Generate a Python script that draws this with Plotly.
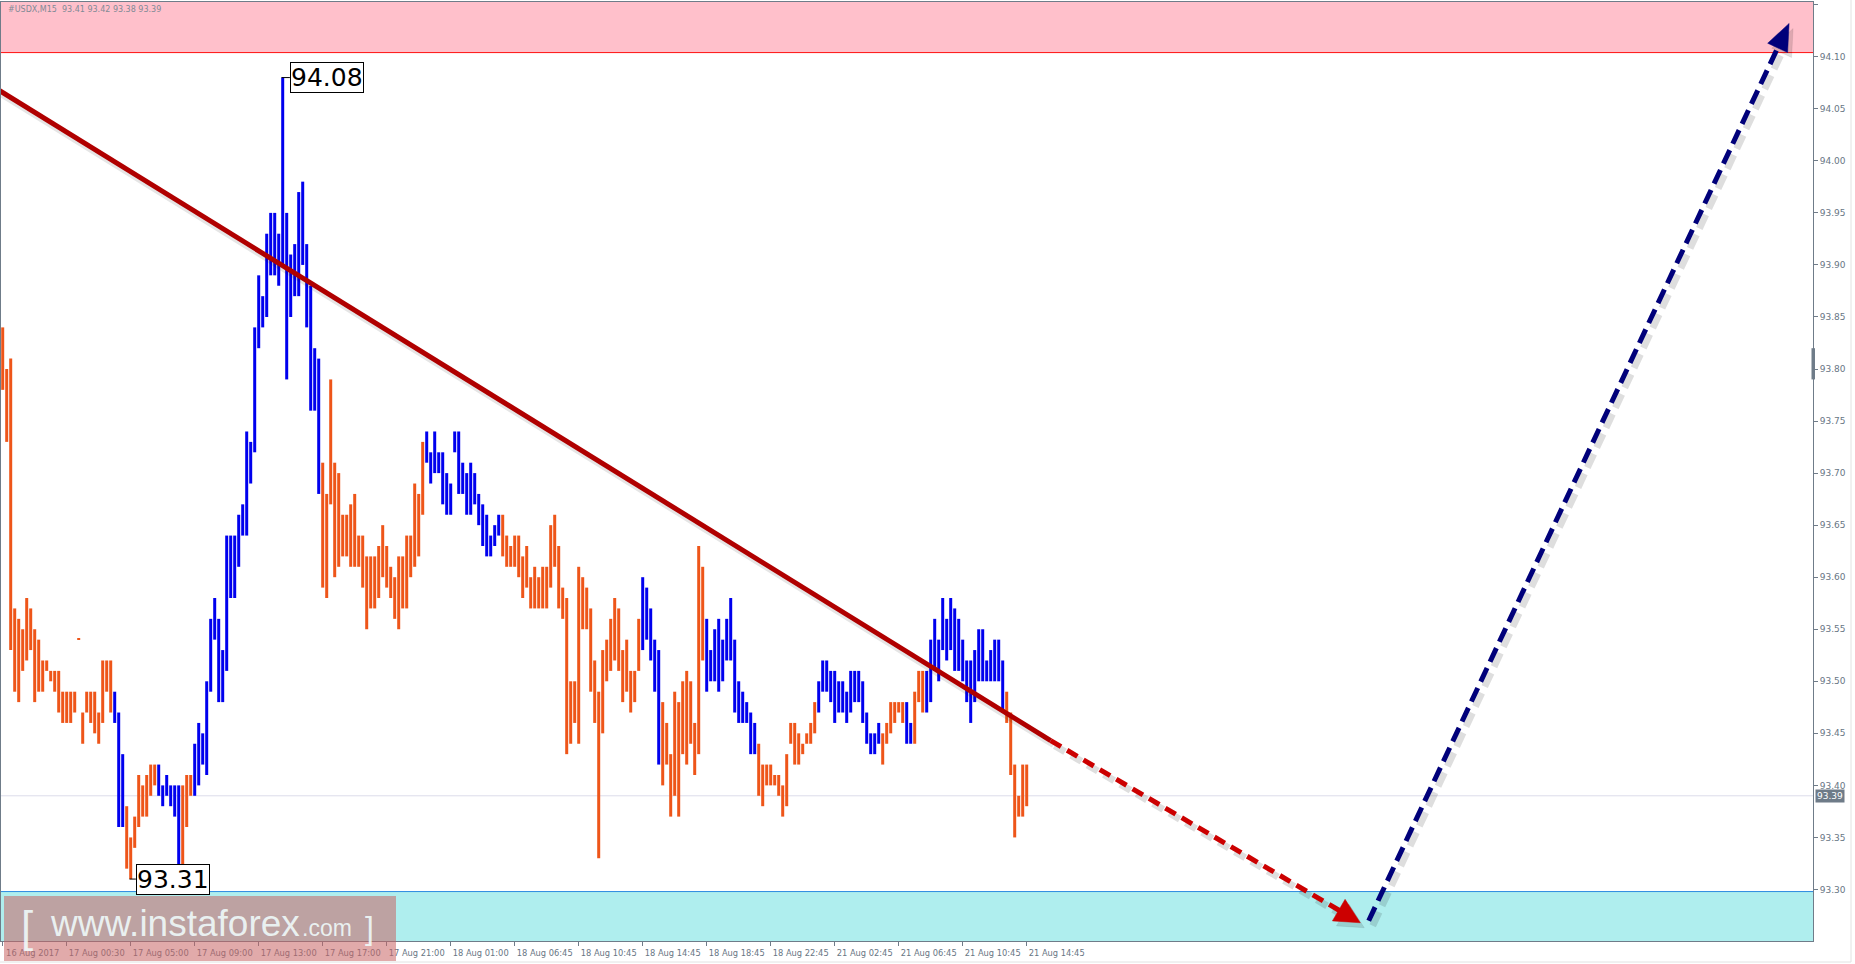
import plotly.graph_objects as go

# ---------------- data ----------------
bar_high = [
    93.84, 93.80, 93.81, 93.57, 93.56, 93.55, 93.58, 93.57, 93.55, 93.54,
    93.52, 93.52, 93.51, 93.51, 93.51, 93.49, 93.49, 93.49, 93.49, 93.54,
    93.47, 93.49, 93.49, 93.49, 93.47, 93.52, 93.52, 93.52, 93.49, 93.47,
    93.43, 93.38, 93.35, 93.37, 93.41, 93.40, 93.41, 93.42, 93.42, 93.42,
    93.40, 93.41, 93.40, 93.40, 93.40, 93.40, 93.41, 93.41, 93.44, 93.46,
    93.45, 93.50, 93.56, 93.58, 93.56, 93.53, 93.64, 93.64, 93.64, 93.66,
    93.67, 93.74, 93.73, 93.84, 93.89, 93.87, 93.93, 93.95, 93.95, 93.93,
    94.08, 93.95, 93.91, 93.92, 93.97, 93.98, 93.92, 93.88, 93.82, 93.81,
    93.71, 93.68, 93.79, 93.71, 93.70, 93.66, 93.66, 93.67, 93.68, 93.64,
    93.64, 93.62, 93.62, 93.62, 93.63, 93.65, 93.63, 93.61, 93.60, 93.62,
    93.62, 93.64, 93.64, 93.69, 93.68, 93.73, 93.74, 93.72, 93.74, 93.72,
    93.72, 93.70, 93.69, 93.74, 93.74, 93.71, 93.70, 93.71, 93.70, 93.68,
    93.67, 93.66, 93.64, 93.65, 93.66, 93.66, 93.64, 93.63, 93.64, 93.64,
    93.62, 93.63, 93.60, 93.61, 93.60, 93.61, 93.61, 93.65, 93.66, 93.63,
    93.59, 93.58, 93.50, 93.50, 93.61, 93.60, 93.59, 93.57, 93.52, 93.49,
    93.53, 93.54, 93.56, 93.58, 93.57, 93.53, 93.54, 93.51, 93.51, 93.56,
    93.60, 93.59, 93.57, 93.54, 93.53, 93.48, 93.46, 93.43, 93.49, 93.48,
    93.50, 93.51, 93.50, 93.46, 93.63, 93.61, 93.56, 93.53, 93.55, 93.56,
    93.54, 93.56, 93.58, 93.54, 93.50, 93.49, 93.48, 93.47, 93.46, 93.44,
    93.42, 93.42, 93.42, 93.41, 93.41, 93.40, 93.43, 93.46, 93.46, 93.45,
    93.44, 93.45, 93.46, 93.48, 93.50, 93.52, 93.52, 93.51, 93.51, 93.50,
    93.50, 93.49, 93.51, 93.51, 93.51, 93.50, 93.47, 93.45, 93.45, 93.46,
    93.45, 93.46, 93.48, 93.48, 93.48, 93.48, 93.48, 93.46, 93.49, 93.51,
    93.51, 93.51, 93.54, 93.56, 93.54, 93.58, 93.56, 93.58, 93.57, 93.56,
    93.54, 93.52, 93.52, 93.53, 93.55, 93.55, 93.52, 93.53, 93.54, 93.54,
    93.52, 93.49, 93.47, 93.42, 93.39, 93.42, 93.42,
]
bar_low = [
    93.78, 93.73, 93.53, 93.49, 93.48, 93.51, 93.52, 93.53, 93.48, 93.49,
    93.49, 93.51, 93.50, 93.49, 93.47, 93.46, 93.46, 93.46, 93.47, 93.54,
    93.44, 93.47, 93.46, 93.45, 93.44, 93.46, 93.49, 93.47, 93.46, 93.36,
    93.36, 93.32, 93.31, 93.34, 93.36, 93.37, 93.37, 93.39, 93.40, 93.39,
    93.38, 93.39, 93.38, 93.37, 93.32, 93.32, 93.36, 93.39, 93.39, 93.40,
    93.42, 93.41, 93.49, 93.54, 93.48, 93.48, 93.51, 93.58, 93.58, 93.61,
    93.64, 93.64, 93.69, 93.72, 93.82, 93.84, 93.85, 93.89, 93.89, 93.88,
    93.90, 93.79, 93.85, 93.87, 93.87, 93.90, 93.84, 93.76, 93.76, 93.68,
    93.59, 93.58, 93.67, 93.60, 93.61, 93.62, 93.62, 93.61, 93.61, 93.61,
    93.59, 93.55, 93.57, 93.57, 93.58, 93.60, 93.59, 93.58, 93.56, 93.55,
    93.57, 93.57, 93.60, 93.61, 93.62, 93.66, 93.71, 93.69, 93.70, 93.70,
    93.67, 93.66, 93.66, 93.72, 93.68, 93.68, 93.66, 93.66, 93.67, 93.65,
    93.63, 93.62, 93.62, 93.63, 93.64, 93.62, 93.61, 93.61, 93.61, 93.60,
    93.58, 93.59, 93.57, 93.57, 93.57, 93.57, 93.57, 93.59, 93.61, 93.57,
    93.56, 93.43, 93.44, 93.46, 93.44, 93.55, 93.55, 93.49, 93.46, 93.33,
    93.45, 93.50, 93.51, 93.52, 93.51, 93.48, 93.49, 93.47, 93.48, 93.51,
    93.53, 93.54, 93.52, 93.49, 93.42, 93.40, 93.42, 93.37, 93.39, 93.37,
    93.43, 93.42, 93.44, 93.41, 93.43, 93.52, 93.49, 93.50, 93.50, 93.49,
    93.50, 93.52, 93.52, 93.47, 93.46, 93.46, 93.46, 93.43, 93.43, 93.39,
    93.38, 93.40, 93.40, 93.40, 93.39, 93.37, 93.38, 93.44, 93.42, 93.42,
    93.43, 93.44, 93.44, 93.45, 93.47, 93.49, 93.49, 93.48, 93.46, 93.47,
    93.47, 93.46, 93.47, 93.48, 93.48, 93.46, 93.44, 93.43, 93.43, 93.44,
    93.42, 93.44, 93.45, 93.46, 93.47, 93.46, 93.44, 93.44, 93.44, 93.48,
    93.47, 93.47, 93.48, 93.51, 93.50, 93.53, 93.52, 93.53, 93.51, 93.51,
    93.50, 93.48, 93.46, 93.48, 93.50, 93.50, 93.50, 93.50, 93.50, 93.50,
    93.47, 93.46, 93.41, 93.35, 93.37, 93.37, 93.38,
]
# wave colouring: (number of consecutive bars, direction)
wave_runs = [
    (28, "down"), (3, "up"), (8, "down"), (6, "up"), (3, "down"), (32, "up"),
    (26, "down"), (19, "up"), (35, "down"), (5, "up"), (11, "down"), (13, "up"),
    (15, "down"), (16, "up"), (6, "down"), (2, "up"), (3, "down"), (20, "up"),
    (6, "down"),
]
time_labels = [
    "16 Aug 2017", "17 Aug 00:30", "17 Aug 05:00", "17 Aug 09:00", "17 Aug 13:00",
    "17 Aug 17:00", "17 Aug 21:00", "18 Aug 01:00", "18 Aug 06:45", "18 Aug 10:45",
    "18 Aug 14:45", "18 Aug 18:45", "18 Aug 22:45", "21 Aug 02:45", "21 Aug 06:45",
    "21 Aug 10:45", "21 Aug 14:45",
]
time_label_bars = [0, 16, 32, 48, 64, 80, 96, 112, 128, 144, 160, 176, 192, 208, 224, 240, 256]
price_ticks = [93.30, 93.35, 93.40, 93.45, 93.50, 93.55, 93.60, 93.65, 93.70,
               93.75, 93.80, 93.85, 93.90, 93.95, 94.00, 94.05, 94.10, 94.15]
price_tick_labels = ["93.30", "93.35", "93.40", "93.45", "93.50", "93.55", "93.60", "93.65", "93.70",
                     "93.75", "93.80", "93.85", "93.90", "93.95", "94.00", "94.05", "94.10", "94.15"]
header_text = "#USDX,M15\u00a0\u00a093.41 93.42 93.38 93.39"
last_price = 93.39
swing_high_bar, swing_high = 70, 94.08
swing_low_bar, swing_low = 32, 93.31
resistance_bottom = 94.104
support_top = 93.298
trend_x = [-1.0, 262.0]
trend_y = [94.068, 93.443]
down_arrow_x = [262.0, 339.4]
down_arrow_y = [93.443, 93.268]
up_arrow_x = [341.5, 446.6]
up_arrow_y = [93.270, 94.132]

# ---------------- layout geometry ----------------
W, H = 1855, 964
ML, MR, MT, MB = 1, 42, 2, 23
X_RANGE = [-0.425, 452.575]
Y_RANGE = [93.2505, 94.1526]
PLOT_W = W - ML - MR
PLOT_H = H - MT - MB
PXB = PLOT_W / (X_RANGE[1] - X_RANGE[0])
PXP = PLOT_H / (Y_RANGE[1] - Y_RANGE[0])

UP_COLOR = "#0000EE"
DOWN_COLOR = "#EE5519"
AXIS_COLOR = "#6f7c89"
LABEL_COLOR = "#687684"

bar_colors = []
for n, d in wave_runs:
    bar_colors += [UP_COLOR if d == "up" else DOWN_COLOR] * n
bar_index = list(range(len(bar_high)))
bar_height = [max(h - l, 0.0012) for h, l in zip(bar_high, bar_low)]

fig = go.Figure()
fig.add_trace(go.Bar(
    x=bar_index, y=bar_height, base=bar_low, width=0.75,
    marker=dict(color=bar_colors, line=dict(width=0)),
    showlegend=False, hoverinfo="skip",
))


def px_x(v):
    return v / PXB


def px_y(v):
    return v / PXP


# red trend line (with soft shadow)
fig.add_trace(go.Scatter(
    x=[v + px_x(3) for v in trend_x], y=[v - px_y(4) for v in trend_y], mode="lines",
    line=dict(color="rgba(0,0,0,0.10)", width=7), showlegend=False, hoverinfo="skip"))
fig.add_trace(go.Scatter(
    x=trend_x, y=trend_y, mode="lines",
    line=dict(color="#B00000", width=5), showlegend=False, hoverinfo="skip"))


def add_arrow(xs, ys, color, width, dash, head_len, head_base):
    x0, x1 = xs
    y0, y1 = ys
    # work in pixel space (y up)
    dxp = (x1 - x0) * PXB
    dyp = (y1 - y0) * PXP
    length = (dxp ** 2 + dyp ** 2) ** 0.5
    ux, uy = dxp / length, dyp / length
    nx, ny = -uy, ux
    bx = x1 - px_x(ux * head_len)
    by = y1 - px_y(uy * head_len)
    ex = x1 - px_x(ux * (head_len - 3))
    ey = y1 - px_y(uy * (head_len - 3))
    hx = [x1, bx + px_x(nx * head_base / 2), bx - px_x(nx * head_base / 2), x1]
    hy = [y1, by + px_y(ny * head_base / 2), by - px_y(ny * head_base / 2), y1]
    layers = [(px_x(4), -px_y(5), "rgba(0,0,0,0.13)", width + 2),
              (0, 0, color, width)]
    for dx, dy, col, w in layers:
        fig.add_trace(go.Scatter(
            x=[x0 + dx, ex + dx], y=[y0 + dy, ey + dy], mode="lines",
            line=dict(color=col, width=w, dash=dash),
            showlegend=False, hoverinfo="skip"))
        fig.add_trace(go.Scatter(
            x=[v + dx for v in hx], y=[v + dy for v in hy], mode="lines",
            fill="toself", fillcolor=col, line=dict(color=col, width=0.5),
            showlegend=False, hoverinfo="skip"))


add_arrow(down_arrow_x, down_arrow_y, "#CC0000", 5, "12px,7px", 25, 25)
add_arrow(up_arrow_x, up_arrow_y, "#00007A", 5, "15px,7px", 27, 22)

shapes = [
    # resistance (pink) zone
    dict(type="rect", xref="x", yref="y", x0=X_RANGE[0], x1=X_RANGE[1],
         y0=resistance_bottom, y1=Y_RANGE[1], fillcolor="#FFC0CB", line=dict(width=0), layer="below"),
    dict(type="line", xref="x", yref="y", x0=X_RANGE[0], x1=X_RANGE[1],
         y0=resistance_bottom, y1=resistance_bottom, line=dict(color="#FF1010", width=1), layer="below"),
    # support (cyan) zone
    dict(type="rect", xref="x", yref="y", x0=X_RANGE[0], x1=X_RANGE[1],
         y0=Y_RANGE[0], y1=support_top, fillcolor="#AFEEEE", line=dict(width=0), layer="below"),
    dict(type="line", xref="x", yref="y", x0=X_RANGE[0], x1=X_RANGE[1],
         y0=support_top, y1=support_top, line=dict(color="#2E8BE0", width=1), layer="below"),
    # last price line
    dict(type="line", xref="x", yref="y", x0=X_RANGE[0], x1=X_RANGE[1],
         y0=last_price, y1=last_price, line=dict(color="#DCDCEA", width=1), layer="below"),
    # label connectors
    dict(type="line", xref="x", yref="y", x0=swing_high_bar - 0.3, x1=swing_high_bar + 1.8,
         y0=swing_high, y1=swing_high, line=dict(color="black", width=1)),
    dict(type="line", xref="x", yref="y", x0=swing_low_bar - 0.3, x1=swing_low_bar + 1.3,
         y0=swing_low, y1=swing_low, line=dict(color="black", width=1)),
    # scroll marker on price axis
    dict(type="rect", xref="paper", yref="y", x0=(1811.5 - ML) / PLOT_W, x1=(1815 - ML) / PLOT_W,
         y0=93.79, y1=93.82, fillcolor=AXIS_COLOR, line=dict(width=0)),
    # window edges
    dict(type="line", xref="paper", yref="paper", x0=(1851 - ML) / PLOT_W, x1=(1851 - ML) / PLOT_W,
         y0=-(962 - (H - MB)) / PLOT_H, y1=1 + MT / PLOT_H, line=dict(color="#E2E2E2", width=1)),
    dict(type="line", xref="paper", yref="paper", x0=-ML / PLOT_W, x1=(1851 - ML) / PLOT_W,
         y0=-(962 - (H - MB)) / PLOT_H, y1=-(962 - (H - MB)) / PLOT_H, line=dict(color="#E2E2E2", width=1)),
    # watermark box
    dict(type="rect", xref="paper", yref="paper", x0=(4 - ML) / PLOT_W, x1=(396 - ML) / PLOT_W,
         y0=-(961 - (H - MB)) / PLOT_H, y1=((H - MB) - 896) / PLOT_H,
         fillcolor="rgba(200,100,100,0.55)", line=dict(width=0), layer="above"),
]


def py(ypix):
    return ((H - MB) - ypix) / PLOT_H


def pxp(xpix):
    return (xpix - ML) / PLOT_W


wm_color = "rgba(240,252,252,0.88)"
annotations = [
    dict(text=header_text, xref="paper", yref="paper", x=pxp(6), y=py(10), xanchor="left",
         yanchor="middle", showarrow=False, font=dict(family="DejaVu Sans", size=8, color="#7f8a96")),
    dict(text=f"{swing_high:.2f}", xref="x", yref="y", x=swing_high_bar + 1.8, y=swing_high,
         xanchor="left", yanchor="middle", showarrow=False, bgcolor="white", bordercolor="black",
         borderwidth=1, borderpad=0, font=dict(family="DejaVu Sans", size=25, color="black")),
    dict(text=f"{swing_low:.2f}", xref="x", yref="y", x=swing_low_bar + 1.3, y=swing_low,
         xanchor="left", yanchor="middle", showarrow=False, bgcolor="white", bordercolor="black",
         borderwidth=1, borderpad=0, font=dict(family="DejaVu Sans", size=25, color="black")),
    dict(text=f"{last_price:.2f}", xref="paper", yref="y", x=pxp(1815), y=last_price,
         xanchor="left", yanchor="middle", showarrow=False, bgcolor="#6e7b88", borderpad=1,
         font=dict(family="DejaVu Sans", size=9, color="white")),
    dict(text="[", xref="paper", yref="paper", x=pxp(19), y=py(926), xanchor="left", yanchor="middle",
         showarrow=False, font=dict(family="Liberation Sans", size=44, color=wm_color)),
    dict(text="www.instaforex", xref="paper", yref="paper", x=pxp(48), y=py(923), xanchor="left",
         yanchor="middle", showarrow=False, font=dict(family="Liberation Sans", size=37, color=wm_color)),
    dict(text=".com", xref="paper", yref="paper", x=pxp(300), y=py(928), xanchor="left",
         yanchor="middle", showarrow=False, font=dict(family="Liberation Sans", size=23, color=wm_color)),
    dict(text="]", xref="paper", yref="paper", x=pxp(363), y=py(928), xanchor="left",
         yanchor="middle", showarrow=False, font=dict(family="Liberation Sans", size=32, color=wm_color)),
]

fig.update_layout(
    width=W, height=H,
    margin=dict(l=ML, r=MR, t=MT, b=MB, pad=0),
    paper_bgcolor="white", plot_bgcolor="white",
    showlegend=False, hovermode=False,
    shapes=shapes, annotations=annotations,
    xaxis=dict(
        range=X_RANGE, fixedrange=True, showgrid=False, zeroline=False,
        showline=True, mirror=True, linecolor=AXIS_COLOR, linewidth=1,
        tickmode="array", tickvals=time_label_bars, ticktext=time_labels,
        ticks="outside", ticklen=4, tickcolor=AXIS_COLOR, ticklabelshift=30,
        tickfont=dict(family="DejaVu Sans", size=8.3, color=LABEL_COLOR),
    ),
    yaxis=dict(
        range=Y_RANGE, fixedrange=True, showgrid=False, zeroline=False, side="right",
        showline=True, mirror=True, linecolor=AXIS_COLOR, linewidth=1,
        tickmode="array", tickvals=price_ticks, ticktext=price_tick_labels,
        ticks="outside", ticklen=4, tickcolor=AXIS_COLOR,
        tickfont=dict(family="DejaVu Sans", size=9, color=LABEL_COLOR),
    ),
)

fig.write_html(
    "out.html",
    config={"displayModeBar": False},
    post_script="document.body.style.margin='0';document.body.style.overflow='hidden';",
)
